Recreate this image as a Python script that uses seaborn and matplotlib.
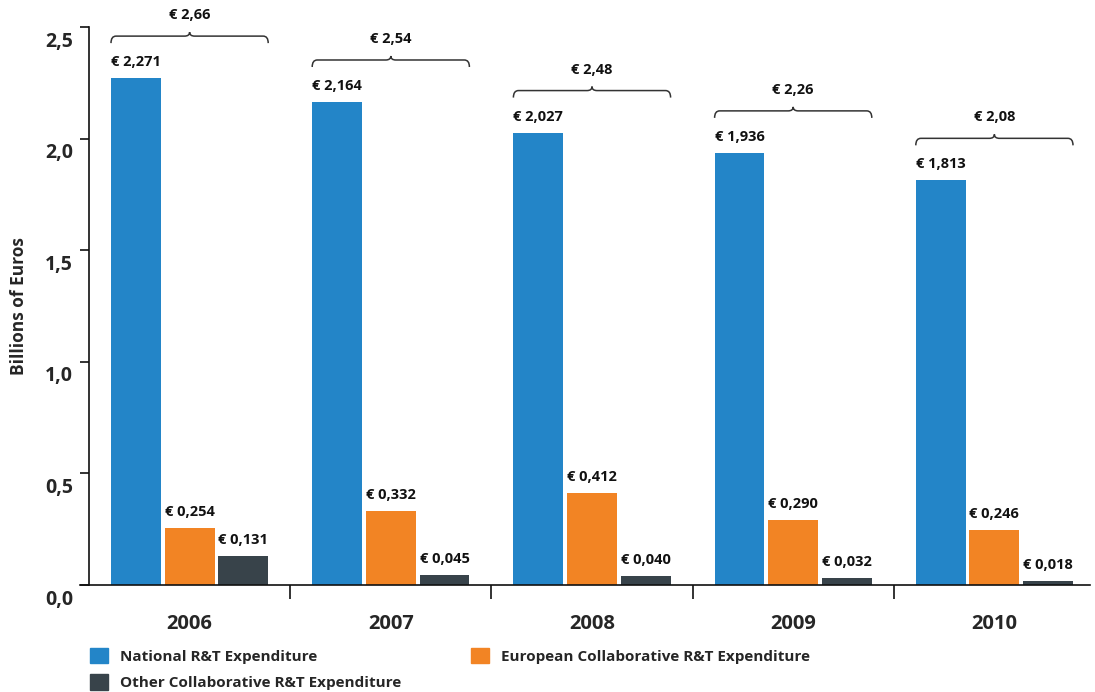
import numpy as np
import pandas as pd
import matplotlib
matplotlib.use("Agg")
import matplotlib.pyplot as plt
import matplotlib.transforms as mtransforms
from matplotlib.path import Path
from matplotlib.patches import PathPatch, Patch
from matplotlib.ticker import FixedLocator
import seaborn as sns

years = ["2006", "2007", "2008", "2009", "2010"]
national = [2.271, 2.164, 2.027, 1.936, 1.813]
european = [0.254, 0.332, 0.412, 0.290, 0.246]
other = [0.131, 0.045, 0.040, 0.032, 0.018]
totals = [2.66, 2.54, 2.48, 2.26, 2.08]
series = ["National R&T Expenditure", "European Collaborative R&T Expenditure",
          "Other Collaborative R&T Expenditure"]
colors = ["#2385C8", "#F28424", "#38434A"]

sns.set_style("white")
plt.rcParams['font.family'] = ['Open Sans', 'DejaVu Sans']
plt.rcParams['font.weight'] = 'bold'

# long format for seaborn
df = pd.DataFrame({"Year": years * 3,
                   "Value": national + european + other,
                   "Series": [series[0]] * 5 + [series[1]] * 5 + [series[2]] * 5})

fig = plt.figure(figsize=(10.95, 6.92), dpi=100)
ax = fig.add_axes([89 / 1095, 1 - 585 / 692, 1 - 89 / 1095, (585 - 27) / 692])

sns.barplot(data=df, x="Year", y="Value", hue="Series", palette=colors,
            width=0.8, gap=0.07, saturation=1, linewidth=0, ax=ax, legend=False)

ax.set_xlim(-0.5, 4.5)
ax.set_ylim(0, 2.5)
ax.set_yticks([0, 0.5, 1.0, 1.5, 2.0, 2.5])
ax.set_yticklabels([f"{v:.1f}".replace(".", ",") for v in [0, 0.5, 1.0, 1.5, 2.0, 2.5]])
ax.set_xlabel("")
ax.set_ylabel("Billions of Euros", fontsize=12.5, fontweight='bold', labelpad=12)

for s in ["top", "right"]:
    ax.spines[s].set_visible(False)
for s in ["left", "bottom"]:
    ax.spines[s].set_color("#111111")
    ax.spines[s].set_linewidth(1.2)
ax.spines["bottom"].set_bounds(-0.545, 4.475)

ax.tick_params(axis='y', which='major', left=True, length=6.5, width=1.2,
               pad=5, labelsize=14, color="#111111")
ax.tick_params(axis='x', which='major', bottom=False, length=0, pad=21, labelsize=14.5)
ax.xaxis.set_minor_locator(FixedLocator([0.5, 1.5, 2.5, 3.5]))
ax.tick_params(axis='x', which='minor', bottom=True, length=10, width=1.2,
               direction='out', color="#111111")
for lab in ax.get_xticklabels() + ax.get_yticklabels():
    lab.set_fontweight('bold')
# y labels sit slightly below their ticks in the original
shift = mtransforms.ScaledTranslation(0, -12 / 100, fig.dpi_scale_trans)
for lab in ax.get_yticklabels():
    lab.set_transform(lab.get_transform() + shift)

# value labels, left aligned over each bar
px = 2.5 / 558.0
for cont, vals in zip(ax.containers, [national, european, other]):
    for bar, v in zip(cont, vals):
        ax.text(bar.get_x(), bar.get_height() + 16 * px,
                f"€ {v:.3f}".replace(".", ","), ha='left', va='center',
                fontsize=10.5, fontweight='bold', color="#111111")

# braces with totals
for i, t in enumerate(totals):
    b0 = ax.containers[0][i]
    b2 = ax.containers[2][i]
    x0 = b0.get_x()
    x1 = b2.get_x() + b2.get_width()
    xm = (x0 + x1) / 2
    yb = national[i] + 42 * px
    d = 7 * px
    r = 0.025
    verts = [(x0, yb - d), (x0, yb), (x0 + r, yb),
             (xm - r, yb), (xm, yb), (xm, yb + 4 * px),
             (xm, yb), (xm + r, yb),
             (x1 - r, yb), (x1, yb), (x1, yb - d)]
    codes = [Path.MOVETO, Path.CURVE3, Path.CURVE3,
             Path.LINETO, Path.CURVE3, Path.CURVE3,
             Path.CURVE3, Path.CURVE3,
             Path.LINETO, Path.CURVE3, Path.CURVE3]
    ax.add_patch(PathPatch(Path(verts, codes), fill=False, lw=1.1,
                           edgecolor="#333333", clip_on=False))
    ax.text(xm, yb + 21 * px, f"€ {t:.2f}".replace(".", ","), ha='center',
            va='center', fontsize=10.5, fontweight='bold', color="#111111",
            clip_on=False)

handles = [Patch(color=colors[0]), Patch(color=colors[2]), Patch(color=colors[1])]
labels = [series[0], series[2], series[1]]
fig.legend(handles, labels, loc='upper left', bbox_to_anchor=(76 / 1095, 1 - 634 / 692),
           ncol=2, frameon=False, handlelength=1.2, handleheight=1.2,
           handletextpad=0.75, columnspacing=4.6, labelspacing=0.7,
           prop={'weight': 'bold', 'size': 11})

fig.savefig("out.png", dpi=100)
